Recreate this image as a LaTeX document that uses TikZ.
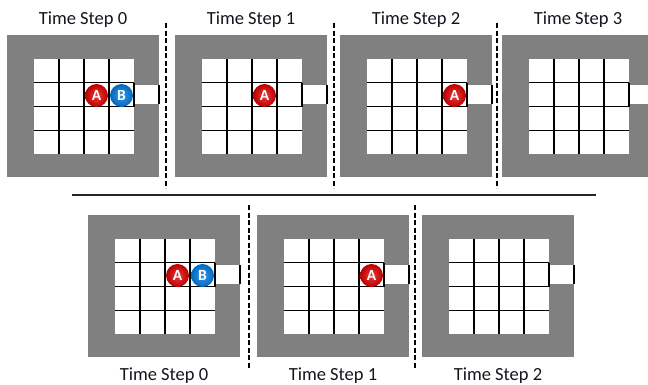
\documentclass[tikz,border=0pt]{standalone}
\usepackage{fontspec}
\setmainfont{Carlito}
\usepackage{tikz}
\usetikzlibrary{positioning}

\begin{document}
\begin{tikzpicture}[x=1pt, y=-1pt,
    wall/.style={fill={rgb,255:red,128;green,128;blue,128}},
    gridline/.style={line width=1.4pt, black},
    divider/.style={line width=1.8pt, black, dash pattern=on 5pt off 2.5pt},
    steplabel/.style={anchor=base, inner sep=0pt, font=\fontsize{18.5}{22}\selectfont, text={rgb,255:red,20;green,20;blue,30}},
    agent/.style={circle, minimum size=23pt, inner sep=0pt, text=white, font=\fontsize{15.5}{17}\selectfont\bfseries},
    agentA/.style={agent, shading=radial, inner color={rgb,255:red,235;green,60;blue,60}, outer color={rgb,255:red,185;green,0;blue,0}},
    agentB/.style={agent, shading=radial, inner color={rgb,255:red,60;green,150;blue,230}, outer color={rgb,255:red,0;green,105;blue,190}}]

    % fixed frame of the picture
    \useasboundingbox (0,0) rectangle (648,384);

    % =================================================================
    % 1. THE GRID WORLDS (top row: labels above, bottom row: labels below)
    % =================================================================
    \foreach \px/\py/\n/\ly/\tag in {7/35/0/-11/u0, 175/35/1/-11/u1, 340/35/2/-11/u2, 502/35/3/-11/u3,
                                     88/215/0/165/d0, 257/215/1/165/d1, 422/215/2/165/d2} {
        \begin{scope}[shift={(\px,\py)}]
            % wall and free cells
            \fill[wall] (0,0) rectangle (152,142);
            \fill[white] (27,24) rectangle (127,119);
            % exit through the right wall
            \fill[white] (127,50) rectangle (152,69);
            % inner cell borders
            \foreach \i in {1,2,3} {
                \draw[gridline] (27+25*\i,24) -- (27+25*\i,119);
                \draw[gridline] (27,24+23.75*\i) -- (127,24+23.75*\i);
            }
            \draw[gridline] (127,47.75) -- (127,71.5);
            \draw[gridline] (152,50) -- (152,69);
            % caption
            \node[steplabel] (\tag) at (76,\ly) {Time Step \n};
        \end{scope}
    }

    % =================================================================
    % 2. THE AGENTS
    % =================================================================
    \node[agentA] (A0) at (96.5,95.5) {A};
    \node[agentB] (B0) at (121.5,95.5) {B};
    \node[agentA] (A1) at (264.5,95.5) {A};
    \node[agentA] (A2) at (454.5,95.5) {A};

    \node[agentA] (A3) at (177.5,275.5) {A};
    \node[agentB] (B3) at (202.5,275.5) {B};
    \node[agentA] (A4) at (371.5,275.5) {A};

    % =================================================================
    % 3. SEPARATORS
    % =================================================================
    \foreach \sx in {166, 334, 497}
        \draw[divider] (\sx,23) -- (\sx,188);
    \foreach \sx in {249, 415}
        \draw[divider] (\sx,205) -- (\sx,368);

    \draw[line width=1.3pt, black!85] (72,195) -- (596,195);

\end{tikzpicture}
\end{document}
